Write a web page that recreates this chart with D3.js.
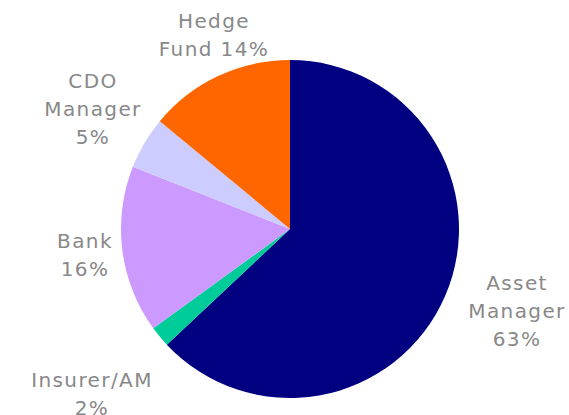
<!DOCTYPE html>
<html>
<head>
<meta charset="utf-8">
<script src="https://cdn.jsdelivr.net/npm/d3@7.9.0/dist/d3.min.js"></script>
<style>
  body { margin: 0; background: #fff; }
  text { font-family: "DejaVu Sans", Verdana, sans-serif; font-size: 20px; fill: #888888; letter-spacing: 1.4px; }
</style>
</head>
<body>
<svg id="chart" width="569" height="415"></svg>
<script>
/* --- Data --- */
const categories = ['Asset Manager', 'Insurer/AM', 'Bank', 'CDO Manager', 'Hedge Fund'];
const shares = [63, 2, 16, 5, 14];
const colors = ['#000080', '#00CC99', '#CC99FF', '#CCCCFF', '#FF6600'];
// label lines per slice
const labelLines = [
  ['Asset', 'Manager', '63%'],
  ['Insurer/AM', '2%'],
  ['Bank', '16%'],
  ['CDO', 'Manager', '5%'],
  ['Hedge', 'Fund 14%']
];
// label anchor (centre of first line)
const labelPos = [[517, 283], [92, 380], [85, 241], [93, 81], [214, 21]];

const svg = d3.select('#chart');
const cx = 290, cy = 229, r = 169;

const pie = d3.pie().sort(null).value(d => d);
const arc = d3.arc().innerRadius(0).outerRadius(r);

const g = svg.append('g').attr('transform', `translate(${cx},${cy})`);

g.selectAll('path')
  .data(pie(shares))
  .enter()
  .append('path')
  .attr('d', arc)
  .attr('fill', (_, i) => colors[i]);

/* --- Labels --- */
const lineH = 28;
svg.selectAll('text.lbl')
  .data(categories)
  .enter()
  .append('text')
  .attr('class', 'lbl')
  .attr('text-anchor', 'middle')
  .attr('x', (_, i) => labelPos[i][0])
  .attr('y', (_, i) => labelPos[i][1])
  .each(function (_, i) {
    const t = d3.select(this);
    labelLines[i].forEach((line, j) => {
      t.append('tspan')
        .attr('x', labelPos[i][0])
        .attr('dy', j === 0 ? '0.35em' : lineH)
        .text(line);
    });
  });
</script>
</body>
</html>
